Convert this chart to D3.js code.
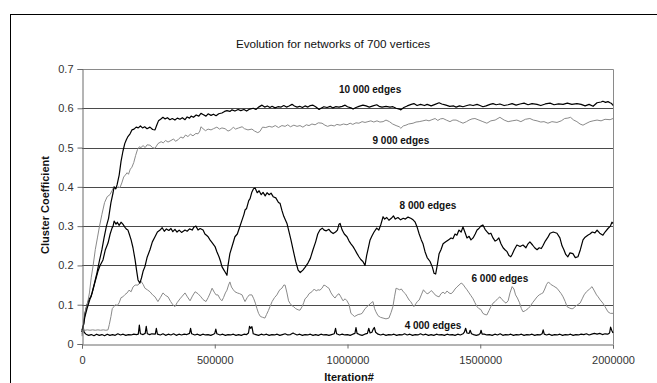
<!DOCTYPE html>
<html>
<head>
<meta charset="utf-8">
<script src="https://d3js.org/d3.v7.min.js"></script>
<style>
body { margin: 0; background: #fff; }
text { font-family: "Liberation Sans", Arial, sans-serif; }
</style>
</head>
<body>
<div class="container"></div>
<script>
////////////////////////////////////////////////////////////////
// DATA (iteration, cluster coefficient)
////////////////////////////////////////////////////////////////
var title = "Evolution for networks of 700 vertices";
var yTitle = "Cluster Coefficient";
var xTitle = "Iteration#";
var yTicks = [0, 0.1, 0.2, 0.3, 0.4, 0.5, 0.6, 0.7];
var xTicks = [0, 500000, 1000000, 1500000, 2000000];

var edges10000 = [[0,0.035],[6000,0.05],[11000,0.07],[19000,0.09],[28000,0.11],[38000,0.13],[47000,0.155],[56000,0.18],[65000,0.21],[75000,0.24],[83000,0.27],[92000,0.30],[100000,0.32],[109000,0.36],[117000,0.385],[121000,0.40],[127000,0.395],[132000,0.405],[140000,0.43],[147000,0.465],[154000,0.49],[161000,0.51],[167000,0.52],[173000,0.528],[181000,0.535],[188000,0.545],[196000,0.547],[204000,0.552],[212000,0.55],[220000,0.555],[228000,0.55],[236000,0.553],[245000,0.548],[256000,0.552],[266000,0.546],[275000,0.545],[281000,0.556],[288000,0.568],[296000,0.572],[305000,0.577],[313000,0.573],[322000,0.576],[331000,0.571],[340000,0.574],[350000,0.57],[359000,0.575],[369000,0.572],[378000,0.576],[388000,0.571],[396000,0.578],[405000,0.575],[411000,0.58],[420000,0.577],[430000,0.583],[440000,0.58],[448000,0.587],[456000,0.584],[467000,0.58],[475000,0.586],[486000,0.582],[495000,0.585],[505000,0.581],[515000,0.586],[527000,0.588],[537000,0.592],[546000,0.594],[557000,0.592],[565000,0.596],[576000,0.593],[588000,0.597],[598000,0.594],[610000,0.597],[620000,0.593],[632000,0.598],[645000,0.6],[655000,0.597],[665000,0.603],[678000,0.608],[688000,0.603],[698000,0.606],[708000,0.602],[716000,0.605],[727000,0.601],[738000,0.604],[750000,0.603],[760000,0.607],[770000,0.603],[780000,0.606],[791000,0.61],[800000,0.606],[810000,0.603],[820000,0.605],[830000,0.602],[840000,0.606],[851000,0.603],[860000,0.607],[870000,0.608],[880000,0.604],[893000,0.597],[900000,0.6],[911000,0.604],[923000,0.602],[935000,0.605],[945000,0.601],[955000,0.604],[968000,0.603],[980000,0.605],[991000,0.608],[1000000,0.604],[1013000,0.601],[1021000,0.598],[1032000,0.602],[1043000,0.605],[1058000,0.608],[1070000,0.606],[1082000,0.603],[1096000,0.606],[1110000,0.609],[1119000,0.605],[1130000,0.603],[1145000,0.605],[1160000,0.603],[1171000,0.604],[1183000,0.6],[1195000,0.598],[1201000,0.596],[1212000,0.602],[1225000,0.606],[1240000,0.61],[1250000,0.612],[1262000,0.607],[1275000,0.61],[1290000,0.607],[1300000,0.61],[1315000,0.606],[1330000,0.61],[1345000,0.614],[1355000,0.611],[1371000,0.608],[1385000,0.605],[1400000,0.606],[1409000,0.603],[1422000,0.606],[1435000,0.604],[1450000,0.607],[1461000,0.609],[1473000,0.607],[1488000,0.61],[1499000,0.607],[1510000,0.604],[1522000,0.606],[1537000,0.61],[1548000,0.612],[1560000,0.609],[1574000,0.611],[1590000,0.607],[1605000,0.609],[1620000,0.612],[1635000,0.608],[1650000,0.611],[1665000,0.613],[1680000,0.609],[1695000,0.612],[1714000,0.61],[1728000,0.607],[1745000,0.611],[1763000,0.613],[1778000,0.609],[1795000,0.611],[1812000,0.61],[1828000,0.613],[1845000,0.61],[1864000,0.612],[1880000,0.61],[1895000,0.606],[1910000,0.61],[1925000,0.605],[1940000,0.614],[1955000,0.616],[1962000,0.618],[1972000,0.615],[1981000,0.617],[1989000,0.614],[1995000,0.612],[2000000,0.607]];

var edges9000 = [[0,0.025],[8000,0.06],[15000,0.09],[20000,0.1],[28000,0.13],[35000,0.17],[42000,0.2],[50000,0.24],[58000,0.27],[66000,0.3],[75000,0.33],[85000,0.36],[95000,0.375],[105000,0.38],[113000,0.39],[120000,0.4],[128000,0.395],[135000,0.4],[143000,0.398],[150000,0.41],[157000,0.425],[163000,0.43],[170000,0.436],[175000,0.432],[182000,0.445],[188000,0.45],[195000,0.462],[202000,0.48],[209000,0.495],[216000,0.502],[222000,0.5],[230000,0.505],[238000,0.5],[245000,0.507],[256000,0.506],[266000,0.5],[275000,0.498],[286000,0.51],[298000,0.515],[306000,0.512],[315000,0.518],[324000,0.514],[335000,0.518],[345000,0.522],[352000,0.516],[362000,0.52],[372000,0.527],[381000,0.524],[390000,0.532],[399000,0.528],[408000,0.534],[418000,0.53],[429000,0.536],[437000,0.535],[444000,0.542],[448000,0.553],[456000,0.548],[465000,0.543],[475000,0.547],[486000,0.545],[495000,0.548],[508000,0.552],[518000,0.547],[527000,0.55],[539000,0.548],[550000,0.542],[560000,0.545],[570000,0.552],[578000,0.547],[590000,0.55],[603000,0.553],[612000,0.548],[625000,0.545],[640000,0.547],[650000,0.542],[662000,0.538],[670000,0.541],[680000,0.552],[692000,0.551],[705000,0.554],[716000,0.552],[728000,0.556],[740000,0.551],[753000,0.556],[765000,0.554],[775000,0.558],[785000,0.553],[798000,0.557],[810000,0.554],[821000,0.556],[832000,0.552],[845000,0.558],[855000,0.556],[866000,0.56],[878000,0.558],[890000,0.563],[904000,0.562],[915000,0.557],[925000,0.554],[938000,0.557],[950000,0.555],[960000,0.559],[972000,0.557],[985000,0.56],[998000,0.558],[1010000,0.562],[1020000,0.559],[1032000,0.563],[1043000,0.562],[1055000,0.566],[1066000,0.564],[1077000,0.566],[1088000,0.568],[1099000,0.565],[1111000,0.568],[1122000,0.565],[1134000,0.566],[1145000,0.57],[1158000,0.566],[1170000,0.56],[1183000,0.556],[1195000,0.553],[1201000,0.549],[1210000,0.555],[1220000,0.557],[1230000,0.56],[1247000,0.562],[1258000,0.565],[1270000,0.566],[1284000,0.568],[1296000,0.57],[1307000,0.568],[1318000,0.571],[1330000,0.574],[1340000,0.569],[1350000,0.573],[1360000,0.574],[1372000,0.57],[1386000,0.566],[1397000,0.57],[1409000,0.57],[1422000,0.566],[1435000,0.562],[1448000,0.566],[1458000,0.57],[1469000,0.573],[1480000,0.574],[1495000,0.57],[1510000,0.566],[1525000,0.562],[1540000,0.568],[1556000,0.57],[1574000,0.577],[1590000,0.57],[1605000,0.566],[1620000,0.568],[1638000,0.57],[1653000,0.566],[1670000,0.572],[1687000,0.574],[1700000,0.57],[1714000,0.568],[1728000,0.565],[1740000,0.566],[1755000,0.562],[1770000,0.566],[1789000,0.564],[1805000,0.568],[1818000,0.574],[1830000,0.575],[1840000,0.577],[1852000,0.57],[1864000,0.566],[1876000,0.56],[1887000,0.557],[1898000,0.561],[1913000,0.566],[1925000,0.568],[1940000,0.57],[1955000,0.568],[1970000,0.572],[1989000,0.571],[2000000,0.574]];

var edges8000 = [[0,0.03],[6000,0.05],[11000,0.078],[19000,0.1],[27000,0.115],[34000,0.12],[42000,0.14],[50000,0.16],[60000,0.185],[68000,0.2],[79000,0.214],[88000,0.24],[98000,0.257],[106000,0.28],[113000,0.295],[117000,0.3],[121000,0.313],[128000,0.305],[133000,0.31],[140000,0.302],[147000,0.31],[154000,0.305],[162000,0.297],[168000,0.292],[173000,0.29],[178000,0.28],[185000,0.265],[192000,0.245],[200000,0.214],[205000,0.19],[211000,0.163],[218000,0.155],[224000,0.168],[230000,0.185],[237000,0.197],[245000,0.22],[256000,0.24],[265000,0.26],[275000,0.273],[284000,0.285],[294000,0.29],[302000,0.296],[310000,0.287],[318000,0.293],[327000,0.289],[335000,0.294],[342000,0.286],[350000,0.292],[358000,0.285],[366000,0.29],[375000,0.284],[388000,0.29],[396000,0.287],[405000,0.293],[415000,0.29],[422000,0.298],[429000,0.3],[437000,0.29],[445000,0.294],[456000,0.29],[463000,0.28],[470000,0.276],[475000,0.273],[482000,0.265],[490000,0.258],[501000,0.248],[508000,0.235],[516000,0.222],[522000,0.21],[527000,0.197],[533000,0.19],[540000,0.182],[546000,0.175],[550000,0.2],[557000,0.23],[566000,0.25],[576000,0.273],[585000,0.28],[593000,0.296],[603000,0.316],[610000,0.33],[614000,0.341],[620000,0.345],[628000,0.365],[633000,0.37],[640000,0.387],[646000,0.395],[652000,0.397],[660000,0.385],[667000,0.39],[675000,0.38],[682000,0.386],[690000,0.377],[697000,0.385],[705000,0.38],[712000,0.384],[720000,0.375],[730000,0.372],[740000,0.36],[746000,0.358],[753000,0.34],[760000,0.325],[772000,0.307],[780000,0.285],[787000,0.265],[795000,0.24],[805000,0.21],[814000,0.188],[822000,0.182],[832000,0.188],[840000,0.195],[851000,0.206],[860000,0.218],[870000,0.24],[880000,0.26],[888000,0.28],[896000,0.29],[905000,0.295],[912000,0.29],[920000,0.288],[930000,0.292],[938000,0.285],[946000,0.281],[955000,0.285],[962000,0.29],[968000,0.305],[972000,0.307],[980000,0.29],[988000,0.28],[998000,0.273],[1006000,0.262],[1013000,0.255],[1021000,0.248],[1028000,0.24],[1036000,0.23],[1043000,0.222],[1050000,0.215],[1058000,0.21],[1066000,0.2],[1072000,0.225],[1077000,0.24],[1085000,0.265],[1092000,0.275],[1100000,0.285],[1110000,0.295],[1118000,0.29],[1126000,0.305],[1134000,0.324],[1140000,0.318],[1148000,0.322],[1156000,0.315],[1165000,0.32],[1173000,0.326],[1180000,0.318],[1190000,0.322],[1200000,0.316],[1210000,0.32],[1218000,0.318],[1228000,0.323],[1238000,0.32],[1247000,0.316],[1255000,0.31],[1262000,0.298],[1270000,0.28],[1278000,0.265],[1284000,0.256],[1292000,0.235],[1300000,0.22],[1311000,0.21],[1320000,0.195],[1326000,0.18],[1332000,0.178],[1338000,0.2],[1345000,0.23],[1352000,0.24],[1360000,0.255],[1370000,0.26],[1380000,0.265],[1390000,0.27],[1397000,0.268],[1405000,0.28],[1412000,0.277],[1420000,0.29],[1428000,0.285],[1435000,0.298],[1442000,0.285],[1450000,0.27],[1458000,0.274],[1465000,0.265],[1473000,0.27],[1481000,0.28],[1488000,0.29],[1495000,0.294],[1502000,0.3],[1510000,0.303],[1518000,0.292],[1525000,0.286],[1533000,0.28],[1540000,0.282],[1548000,0.27],[1556000,0.262],[1563000,0.265],[1570000,0.27],[1578000,0.255],[1586000,0.245],[1593000,0.24],[1601000,0.235],[1608000,0.225],[1615000,0.222],[1620000,0.228],[1628000,0.24],[1638000,0.252],[1650000,0.248],[1661000,0.252],[1672000,0.245],[1680000,0.255],[1687000,0.26],[1697000,0.252],[1705000,0.245],[1714000,0.24],[1722000,0.245],[1730000,0.243],[1736000,0.25],[1745000,0.262],[1755000,0.272],[1763000,0.282],[1775000,0.285],[1789000,0.282],[1800000,0.27],[1808000,0.25],[1815000,0.24],[1822000,0.228],[1830000,0.222],[1838000,0.232],[1849000,0.23],[1858000,0.22],[1868000,0.222],[1877000,0.24],[1887000,0.265],[1895000,0.272],[1905000,0.277],[1913000,0.28],[1922000,0.285],[1932000,0.283],[1940000,0.29],[1950000,0.282],[1962000,0.277],[1970000,0.285],[1981000,0.294],[1990000,0.3],[1996000,0.31],[2000000,0.307]];

var edges6000 = [[0,0.02],[3000,0.045],[6000,0.035],[11000,0.035],[20000,0.036],[30000,0.035],[40000,0.036],[50000,0.035],[60000,0.036],[70000,0.035],[80000,0.036],[90000,0.035],[98000,0.036],[103000,0.05],[109000,0.07],[114000,0.09],[120000,0.095],[126000,0.1],[133000,0.098],[140000,0.105],[147000,0.118],[154000,0.12],[162000,0.126],[170000,0.13],[177000,0.137],[185000,0.133],[192000,0.145],[200000,0.15],[211000,0.15],[222000,0.16],[230000,0.152],[237000,0.142],[246000,0.138],[256000,0.133],[266000,0.125],[275000,0.12],[286000,0.108],[295000,0.118],[305000,0.13],[314000,0.124],[324000,0.12],[334000,0.108],[342000,0.1],[350000,0.095],[358000,0.105],[369000,0.115],[378000,0.122],[388000,0.13],[397000,0.12],[407000,0.11],[416000,0.122],[426000,0.133],[437000,0.128],[448000,0.12],[456000,0.113],[467000,0.108],[475000,0.118],[483000,0.13],[490000,0.142],[498000,0.132],[505000,0.125],[512000,0.125],[520000,0.115],[527000,0.11],[533000,0.118],[540000,0.13],[546000,0.137],[552000,0.15],[557000,0.158],[563000,0.145],[570000,0.138],[576000,0.133],[585000,0.13],[594000,0.128],[603000,0.125],[609000,0.115],[614000,0.108],[622000,0.118],[630000,0.125],[640000,0.125],[647000,0.115],[653000,0.104],[659000,0.09],[665000,0.078],[672000,0.07],[680000,0.068],[689000,0.066],[695000,0.075],[702000,0.085],[708000,0.095],[716000,0.108],[725000,0.118],[734000,0.125],[742000,0.135],[748000,0.14],[753000,0.142],[760000,0.15],[765000,0.15],[772000,0.13],[778000,0.11],[783000,0.104],[790000,0.098],[797000,0.095],[805000,0.09],[814000,0.087],[821000,0.086],[829000,0.095],[835000,0.105],[840000,0.115],[848000,0.12],[855000,0.128],[866000,0.133],[875000,0.14],[882000,0.135],[889000,0.138],[896000,0.137],[904000,0.142],[911000,0.15],[918000,0.148],[923000,0.145],[930000,0.142],[938000,0.13],[946000,0.122],[953000,0.117],[960000,0.124],[968000,0.128],[975000,0.12],[983000,0.11],[991000,0.115],[998000,0.11],[1006000,0.1],[1013000,0.078],[1020000,0.074],[1026000,0.07],[1032000,0.072],[1040000,0.075],[1048000,0.076],[1055000,0.078],[1066000,0.09],[1077000,0.097],[1088000,0.104],[1096000,0.108],[1102000,0.09],[1107000,0.082],[1115000,0.072],[1124000,0.068],[1134000,0.066],[1145000,0.064],[1156000,0.066],[1164000,0.08],[1171000,0.095],[1177000,0.12],[1183000,0.142],[1190000,0.14],[1196000,0.138],[1203000,0.14],[1210000,0.133],[1218000,0.128],[1225000,0.12],[1232000,0.112],[1238000,0.108],[1245000,0.1],[1250000,0.095],[1257000,0.102],[1263000,0.108],[1270000,0.112],[1278000,0.125],[1286000,0.138],[1293000,0.132],[1300000,0.128],[1307000,0.13],[1315000,0.136],[1322000,0.132],[1330000,0.125],[1337000,0.122],[1345000,0.12],[1352000,0.128],[1360000,0.132],[1367000,0.128],[1375000,0.135],[1382000,0.13],[1390000,0.128],[1397000,0.132],[1405000,0.14],[1412000,0.145],[1420000,0.15],[1428000,0.155],[1435000,0.152],[1442000,0.145],[1450000,0.138],[1458000,0.13],[1465000,0.123],[1473000,0.115],[1480000,0.105],[1488000,0.095],[1495000,0.09],[1502000,0.088],[1510000,0.078],[1518000,0.075],[1525000,0.074],[1533000,0.085],[1540000,0.095],[1548000,0.104],[1556000,0.108],[1565000,0.115],[1574000,0.12],[1582000,0.113],[1590000,0.108],[1597000,0.104],[1605000,0.11],[1612000,0.13],[1620000,0.146],[1627000,0.14],[1633000,0.125],[1640000,0.117],[1648000,0.105],[1655000,0.09],[1661000,0.082],[1670000,0.085],[1680000,0.09],[1687000,0.095],[1697000,0.105],[1705000,0.112],[1714000,0.12],[1722000,0.125],[1730000,0.128],[1736000,0.13],[1743000,0.14],[1750000,0.152],[1757000,0.158],[1765000,0.152],[1775000,0.148],[1789000,0.142],[1797000,0.135],[1805000,0.128],[1812000,0.12],[1820000,0.108],[1827000,0.095],[1835000,0.092],[1842000,0.09],[1849000,0.09],[1857000,0.095],[1866000,0.1],[1876000,0.104],[1884000,0.115],[1891000,0.125],[1900000,0.133],[1912000,0.14],[1921000,0.146],[1930000,0.135],[1938000,0.125],[1944000,0.12],[1952000,0.112],[1962000,0.104],[1970000,0.095],[1981000,0.082],[1990000,0.078],[2000000,0.078]];

var edges4000 = [[0,0.03],[4000,0.045],[8000,0.03],[15000,0.025],[25000,0.022],[35000,0.024],[45000,0.021],[55000,0.025],[65000,0.022],[75000,0.024],[85000,0.021],[95000,0.025],[105000,0.022],[115000,0.024],[125000,0.022],[135000,0.026],[145000,0.023],[155000,0.025],[165000,0.022],[175000,0.024],[185000,0.023],[195000,0.025],[205000,0.024],[212000,0.025],[216000,0.048],[220000,0.026],[230000,0.024],[238000,0.027],[242000,0.045],[246000,0.026],[255000,0.024],[263000,0.026],[276000,0.025],[280000,0.04],[284000,0.025],[295000,0.023],[305000,0.026],[315000,0.022],[325000,0.025],[335000,0.023],[345000,0.026],[355000,0.022],[365000,0.025],[375000,0.023],[385000,0.025],[395000,0.024],[405000,0.027],[409000,0.04],[413000,0.026],[425000,0.023],[435000,0.025],[445000,0.022],[455000,0.025],[465000,0.023],[475000,0.024],[485000,0.022],[495000,0.025],[500000,0.027],[504000,0.038],[508000,0.026],[520000,0.023],[530000,0.025],[540000,0.022],[550000,0.024],[560000,0.023],[570000,0.025],[580000,0.022],[590000,0.024],[600000,0.022],[610000,0.025],[620000,0.024],[627000,0.028],[631000,0.045],[635000,0.04],[640000,0.044],[645000,0.026],[655000,0.024],[665000,0.022],[675000,0.025],[685000,0.023],[695000,0.025],[705000,0.022],[715000,0.024],[725000,0.023],[735000,0.025],[745000,0.022],[755000,0.024],[765000,0.026],[775000,0.023],[785000,0.024],[795000,0.028],[800000,0.026],[810000,0.023],[820000,0.025],[830000,0.022],[840000,0.024],[850000,0.023],[860000,0.025],[870000,0.022],[880000,0.024],[890000,0.022],[900000,0.025],[910000,0.023],[920000,0.024],[930000,0.022],[940000,0.024],[950000,0.026],[955000,0.04],[959000,0.026],[970000,0.023],[980000,0.025],[990000,0.023],[1000000,0.024],[1010000,0.022],[1020000,0.025],[1028000,0.027],[1032000,0.042],[1036000,0.027],[1045000,0.024],[1055000,0.022],[1065000,0.025],[1075000,0.027],[1080000,0.04],[1085000,0.028],[1092000,0.03],[1097000,0.038],[1101000,0.042],[1106000,0.03],[1115000,0.025],[1125000,0.023],[1135000,0.025],[1145000,0.022],[1155000,0.024],[1165000,0.023],[1175000,0.025],[1185000,0.022],[1195000,0.024],[1205000,0.023],[1215000,0.026],[1225000,0.023],[1235000,0.025],[1245000,0.022],[1255000,0.024],[1265000,0.023],[1275000,0.026],[1285000,0.023],[1295000,0.025],[1305000,0.022],[1315000,0.024],[1325000,0.022],[1335000,0.025],[1345000,0.023],[1355000,0.024],[1365000,0.022],[1375000,0.025],[1385000,0.023],[1395000,0.024],[1405000,0.022],[1415000,0.025],[1425000,0.023],[1435000,0.026],[1440000,0.03],[1445000,0.04],[1450000,0.028],[1458000,0.027],[1462000,0.035],[1467000,0.026],[1475000,0.024],[1485000,0.022],[1495000,0.024],[1500000,0.027],[1503000,0.035],[1507000,0.025],[1515000,0.025],[1525000,0.023],[1535000,0.024],[1545000,0.022],[1555000,0.025],[1565000,0.023],[1575000,0.026],[1585000,0.022],[1595000,0.024],[1605000,0.023],[1615000,0.025],[1625000,0.022],[1635000,0.024],[1645000,0.023],[1655000,0.025],[1665000,0.022],[1675000,0.024],[1685000,0.023],[1695000,0.025],[1705000,0.022],[1715000,0.024],[1725000,0.023],[1733000,0.026],[1737000,0.036],[1741000,0.025],[1750000,0.023],[1760000,0.025],[1770000,0.022],[1780000,0.024],[1790000,0.023],[1800000,0.025],[1810000,0.022],[1820000,0.024],[1830000,0.023],[1840000,0.025],[1850000,0.022],[1860000,0.024],[1870000,0.023],[1880000,0.025],[1890000,0.024],[1900000,0.026],[1910000,0.023],[1920000,0.025],[1930000,0.027],[1940000,0.025],[1950000,0.027],[1960000,0.024],[1970000,0.026],[1980000,0.025],[1987000,0.028],[1991000,0.043],[1995000,0.035],[2000000,0.028]];

var seriesNames = ["10 000 edges", "9 000 edges", "8 000 edges", "6 000 edges", "4 000 edges"];
var seriesData = [edges10000, edges9000, edges8000, edges6000, edges4000];
var seriesColors = ["#000000", "#8a8a8a", "#000000", "#8a8a8a", "#000000"];
// where each name sits (iteration, value)
var labelSpots = [[1085000, 0.649], [1201000, 0.519], [1303000, 0.354], [1574000, 0.168], [1322000, 0.048]];

////////////////////////////////////////////////////////////////
// STAGE
////////////////////////////////////////////////////////////////
var W = 657, H = 383;
var plotL = 82, plotR = 613, plotT = 69, plotB = 344;

var svg = d3.select(".container")
  .append("svg")
  .attr("width", W)
  .attr("height", H);

svg.append("rect")
  .attr("x", 10.5).attr("y", 14.5)
  .attr("width", 700).attr("height", 420)
  .attr("fill", "#fff")
  .attr("stroke", "#000")
  .attr("stroke-width", 1);

var x = d3.scaleLinear().domain([0, 2000000]).range([plotL, plotR]);
var y = d3.scaleLinear().domain([0, 0.7]).range([plotB, plotT]);

////////////////////////////////////////////////////////////////
// GRID + FRAME
////////////////////////////////////////////////////////////////
svg.append("g").selectAll("line")
  .data(yTicks.filter(function(d) { return d > 0 && d < 0.7; }))
  .enter().append("line")
  .attr("x1", plotL).attr("x2", plotR)
  .attr("y1", function(d) { return Math.round(y(d)) + 0.5; })
  .attr("y2", function(d) { return Math.round(y(d)) + 0.5; })
  .attr("stroke", "#4a4a4a")
  .attr("stroke-width", 1);

svg.append("path")
  .attr("d", "M" + plotL + "," + (plotT + 0.5) + "H" + (plotR + 0.5) + "V" + plotB)
  .attr("fill", "none")
  .attr("stroke", "#8a8a8a")
  .attr("stroke-width", 1);

////////////////////////////////////////////////////////////////
// SERIES
////////////////////////////////////////////////////////////////
var line = d3.line()
  .x(function(d) { return x(d[0]); })
  .y(function(d) { return y(d[1]); });

for (var i = seriesData.length - 1; i >= 0; i--) {
  svg.append("path")
    .datum(seriesData[i])
    .attr("d", line)
    .attr("fill", "none")
    .attr("stroke", seriesColors[i])
    .attr("stroke-width", seriesColors[i] == "#000000" ? 1.2 : 1)
    .attr("stroke-linejoin", "round");
}

////////////////////////////////////////////////////////////////
// AXES
////////////////////////////////////////////////////////////////
var yAxis = svg.append("g")
  .attr("transform", "translate(" + (plotL + 0.5) + ",0)")
  .call(d3.axisLeft(y).tickValues(yTicks).tickSize(5).tickPadding(4)
    .tickFormat(function(d) { return d == 0 ? "0" : d3.format(".1f")(d); }));

var xAxis = svg.append("g")
  .attr("transform", "translate(0," + (plotB + 0.5) + ")")
  .call(d3.axisBottom(x).tickValues(xTicks).tickSize(4).tickPadding(8)
    .tickFormat(d3.format("d")));

[yAxis, xAxis].forEach(function(a) {
  a.select(".domain").attr("stroke", "#6a6a6a");
  a.selectAll(".tick line").attr("stroke", "#6a6a6a");
  a.selectAll("text")
    .attr("font-family", "Liberation Sans, Arial, sans-serif")
    .attr("font-size", 11)
    .attr("fill", "#333");
});

////////////////////////////////////////////////////////////////
// TEXTS
////////////////////////////////////////////////////////////////
svg.append("text")
  .attr("x", 333).attr("y", 48)
  .attr("text-anchor", "middle")
  .attr("font-size", 11.7)
  .attr("fill", "#111")
  .text(title);

svg.append("text")
  .attr("transform", "translate(49,205) rotate(-90)")
  .attr("text-anchor", "middle")
  .attr("font-size", 11)
  .attr("font-weight", "bold")
  .attr("fill", "#111")
  .text(yTitle);

svg.append("text")
  .attr("x", 349).attr("y", 381)
  .attr("text-anchor", "middle")
  .attr("font-size", 11)
  .attr("font-weight", "bold")
  .attr("fill", "#111")
  .text(xTitle);

svg.append("g").selectAll("text")
  .data(seriesNames)
  .enter().append("text")
  .attr("x", function(d, i) { return x(labelSpots[i][0]); })
  .attr("y", function(d, i) { return y(labelSpots[i][1]) + 4; })
  .attr("text-anchor", "middle")
  .attr("font-size", 10)
  .attr("font-weight", "bold")
  .attr("fill", "#111")
  .text(function(d) { return d; });
</script>
</body>
</html>
